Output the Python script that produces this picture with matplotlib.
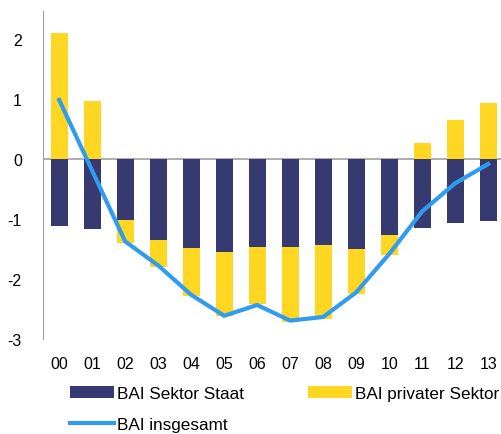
import numpy as np
import matplotlib
matplotlib.use("Agg")
import matplotlib.pyplot as plt

plt.rcParams.update({"font.family": ["Liberation Sans", "DejaVu Sans"], "font.size": 11.5,
                     "axes.unicode_minus": False})

years = ["00", "01", "02", "03", "04", "05", "06", "07", "08", "09", "10", "11", "12", "13"]
staat = [-1.12, -1.16, -1.01, -1.35, -1.48, -1.55, -1.47, -1.46, -1.43, -1.49, -1.27, -1.15, -1.07, -1.03]
privat = [2.11, 0.97, -0.38, -0.44, -0.80, -1.07, -0.95, -1.25, -1.23, -0.75, -0.32, 0.27, 0.66, 0.94]
gesamt = [0.99, -0.19, -1.37, -1.77, -2.26, -2.61, -2.43, -2.69, -2.63, -2.22, -1.58, -0.87, -0.40, -0.08]

navy = "#363a70"
yellow = "#ffd621"
blue = "#2f9cf2"

fig = plt.figure(figsize=(5.02, 4.35), dpi=100)
ax = fig.add_axes([0.085, 0.218, 0.915, 0.754])

x = np.arange(len(years))
staat = np.array(staat)
privat = np.array(privat)
# yellow sits on top of 0 if positive, below the navy bar if negative
bottom_priv = np.where(privat < 0, staat, 0)

b_staat = ax.bar(x, staat, width=0.52, color=navy, zorder=2)
b_priv = ax.bar(x, privat, width=0.52, bottom=bottom_priv, color=yellow, zorder=2)
ln, = ax.plot(x, gesamt, color=blue, lw=3, zorder=3)
ax.axhline(0, color="#a0a0a0", lw=1.2, zorder=1)

ax.set_xlim(-0.5, 13.42)
ax.set_ylim(-3, 2.47)
ax.set_yticks([-3, -2, -1, 0, 1, 2])
ax.set_xticks(x)
ax.set_xticklabels(years)
ax.tick_params(axis="y", length=0, pad=15)
ax.tick_params(axis="x", length=0, pad=12)
for s in ["top", "right", "bottom"]:
    ax.spines[s].set_visible(False)
ax.spines["left"].set_color("#a0a0a0")

# legend fills column-wise: Staat / insgesamt in col 1, privater in col 2
fig.legend([b_staat, ln, b_priv], ["BAI Sektor Staat", "BAI insgesamt", "BAI privater Sektor"],
           loc="lower left", bbox_to_anchor=(0.125, -0.01), ncol=2, frameon=False,
           fontsize=12.3, handlelength=2.6, handleheight=0.7, handletextpad=0.2,
           columnspacing=3.7, labelspacing=0.9, borderaxespad=0.0)

fig.savefig("out.png")
